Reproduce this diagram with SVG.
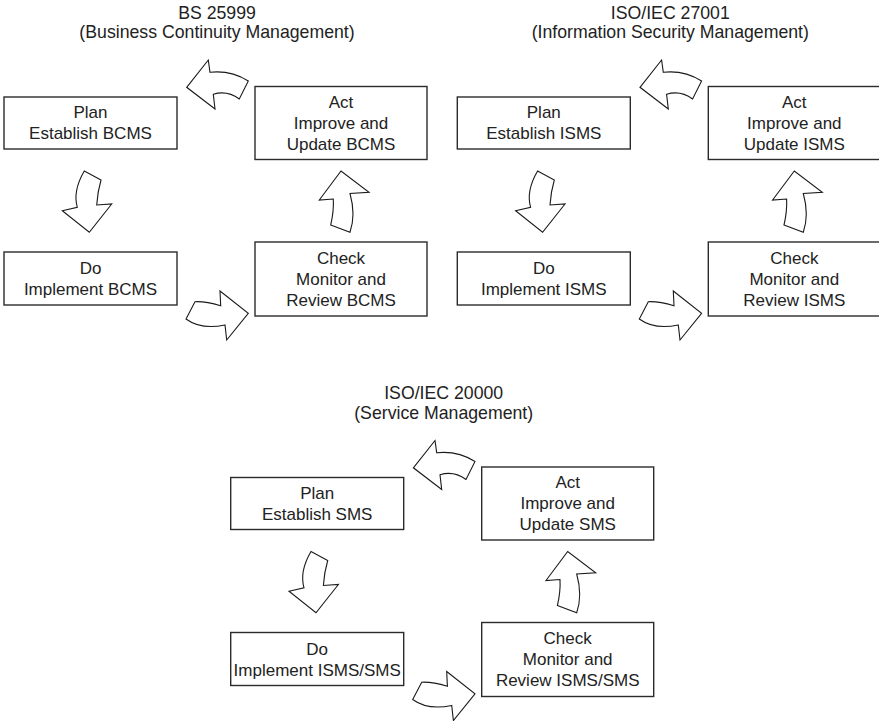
<svg xmlns="http://www.w3.org/2000/svg" xmlns:xlink="http://www.w3.org/1999/xlink" width="879" height="721" viewBox="0 0 879 721">
  <style>
    .box { fill: #ffffff; stroke: #2b2b2b; stroke-width: 1.4; }
    .arrow { fill: #ffffff; stroke: #1a1a1a; stroke-width: 1.1; stroke-linejoin: miter; }
    text { font-family: "Liberation Sans", Arial, sans-serif; font-size: 17px; fill: #222222; text-anchor: middle; }
    .title { font-size: 17.7px; }
  </style>
  <defs>
    <!-- Curved block arrows of one PDCA cycle, drawn in the frame of the first cycle -->
    <path id="arrow-act-plan" class="arrow" d="M186.7,87.3 L208.3,60 L210,72.3 Q230.8,70 248.3,81 L239.3,99 Q227,90 213.3,94.3 L215,109 Z"/>
    <path id="arrow-plan-do" class="arrow" d="M84.3,171 L101,180 Q97.5,192 96.7,205 L111.7,204 L89.3,232.3 L62.3,210.7 L77.3,207.3 Q72.6,191 84.3,171 Z"/>
    <path id="arrow-do-check" class="arrow" d="M195,301.7 Q205.5,301.2 220.7,305.7 L220,291 L248.3,313.3 L226.7,340 L225,325 Q201,330 186,319 Z"/>
    <path id="arrow-check-act" class="arrow" d="M330.7,225 L350,232.3 Q356,215 350,193.5 L369,192.3 L341,171 L319.3,200 L333.3,199 Q334,211 330.7,225 Z"/>
  </defs>

  <!-- BS 25999 -->
  <g id="title-bs25999">
    <text class="title" x="217" y="18.5">BS 25999</text>
    <text class="title" x="217" y="38">(Business Continuity Management)</text>
  </g>
  <g id="bcms-plan">
    <rect class="box" x="4" y="97" width="173" height="52"/>
    <text x="90.5" y="118">Plan</text>
    <text x="90.5" y="139">Establish BCMS</text>
  </g>
  <g id="bcms-act">
    <rect class="box" x="255" y="86.5" width="172" height="73"/>
    <text x="341" y="107.5">Act</text>
    <text x="341" y="128.5">Improve and</text>
    <text x="341" y="149.5">Update BCMS</text>
  </g>
  <g id="bcms-do">
    <rect class="box" x="4" y="252" width="173" height="53"/>
    <text x="90.5" y="274">Do</text>
    <text x="90.5" y="295">Implement BCMS</text>
  </g>
  <g id="bcms-check">
    <rect class="box" x="255" y="242" width="172" height="74"/>
    <text x="341" y="263.5">Check</text>
    <text x="341" y="284.5">Monitor and</text>
    <text x="341" y="305.5">Review BCMS</text>
  </g>

  <!-- ISO/IEC 27001 -->
  <g id="title-iso27001">
    <text class="title" x="670.3" y="18.5">ISO/IEC 27001</text>
    <text class="title" x="670.3" y="38">(Information Security Management)</text>
  </g>
  <g id="isms-plan">
    <rect class="box" x="457.3" y="97" width="173" height="52"/>
    <text x="543.8" y="118">Plan</text>
    <text x="543.8" y="139">Establish ISMS</text>
  </g>
  <g id="isms-act">
    <rect class="box" x="708.3" y="86.5" width="172" height="73"/>
    <text x="794.3" y="107.5">Act</text>
    <text x="794.3" y="128.5">Improve and</text>
    <text x="794.3" y="149.5">Update ISMS</text>
  </g>
  <g id="isms-do">
    <rect class="box" x="457.3" y="252" width="173" height="53"/>
    <text x="543.8" y="274">Do</text>
    <text x="543.8" y="295">Implement ISMS</text>
  </g>
  <g id="isms-check">
    <rect class="box" x="708.3" y="242" width="172" height="74"/>
    <text x="794.3" y="263.5">Check</text>
    <text x="794.3" y="284.5">Monitor and</text>
    <text x="794.3" y="305.5">Review ISMS</text>
  </g>

  <!-- ISO/IEC 20000 -->
  <g id="title-iso20000">
    <text class="title" x="443.7" y="399">ISO/IEC 20000</text>
    <text class="title" x="443.7" y="418.5">(Service Management)</text>
  </g>
  <g id="sms-plan">
    <rect class="box" x="230.7" y="477.5" width="173" height="52"/>
    <text x="317.2" y="498.5">Plan</text>
    <text x="317.2" y="519.5">Establish SMS</text>
  </g>
  <g id="sms-act">
    <rect class="box" x="481.7" y="467" width="172" height="73"/>
    <text x="567.7" y="488">Act</text>
    <text x="567.7" y="509">Improve and</text>
    <text x="567.7" y="530">Update SMS</text>
  </g>
  <g id="sms-do">
    <rect class="box" x="230.7" y="632.5" width="173" height="53"/>
    <text x="317.2" y="654.5">Do</text>
    <text x="317.2" y="675.5">Implement ISMS/SMS</text>
  </g>
  <g id="sms-check">
    <rect class="box" x="481.7" y="622.5" width="172" height="74"/>
    <text x="567.7" y="644">Check</text>
    <text x="567.7" y="665">Monitor and</text>
    <text x="567.7" y="686">Review ISMS/SMS</text>
  </g>

  <!-- Cycle arrows: plan -> do -> check -> act -> plan -->
  <g id="connectors">
    <use xlink:href="#arrow-act-plan"/>
    <use xlink:href="#arrow-plan-do"/>
    <use xlink:href="#arrow-do-check"/>
    <use xlink:href="#arrow-check-act"/>
    <g transform="translate(453.3,0)">
      <use xlink:href="#arrow-act-plan"/>
      <use xlink:href="#arrow-plan-do"/>
      <use xlink:href="#arrow-do-check"/>
      <use xlink:href="#arrow-check-act"/>
    </g>
    <g transform="translate(226.7,380.5)">
      <use xlink:href="#arrow-act-plan"/>
      <use xlink:href="#arrow-plan-do"/>
      <use xlink:href="#arrow-do-check"/>
      <use xlink:href="#arrow-check-act"/>
    </g>
  </g>
</svg>
